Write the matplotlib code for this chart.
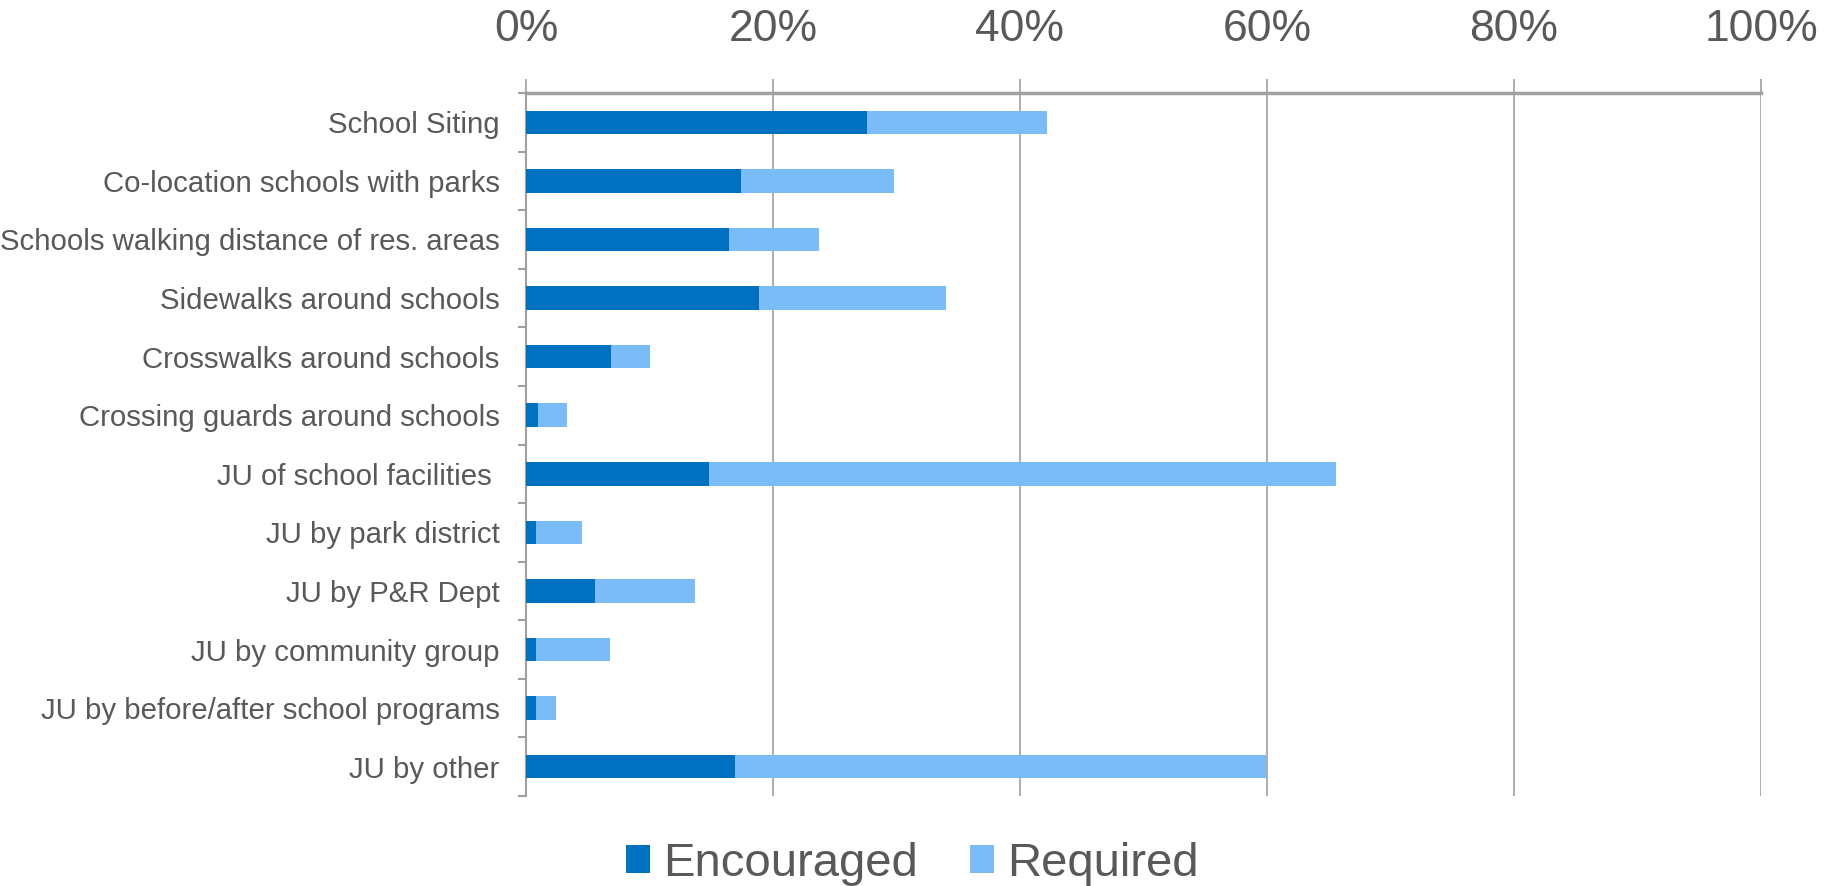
import matplotlib.pyplot as plt
from matplotlib.ticker import FixedLocator, PercentFormatter

plt.rcParams['font.family'] = ['Liberation Sans', 'DejaVu Sans']

# values in percent
categories = ['School Siting', 'Co-location schools with parks',
              'Schools walking distance of res. areas', 'Sidewalks around schools',
              'Crosswalks around schools', 'Crossing guards around schools',
              'JU of school facilities ', 'JU by park district', 'JU by P&R Dept',
              'JU by community group', 'JU by before/after school programs',
              'JU by other']
encouraged = [27.6, 17.4, 16.4, 18.9, 6.85, 0.95, 14.85, 0.8, 5.55, 0.8, 0.8, 16.95]
required = [14.6, 12.4, 7.3, 15.1, 3.15, 2.4, 50.7, 3.7, 8.1, 6.0, 1.65, 43.0]

dark = '#0070C0'
light = '#79BCF8'
txt = '#595959'
grid_c = '#a0a0a0'

fig = plt.figure(figsize=(18.25, 8.86), dpi=100)
ax = fig.add_axes([526/1825, 1-796/886, (1761-526)/1825, (796-93)/886])

y = list(range(len(categories)))
ax.barh(y, encouraged, height=0.4, color=dark, label='Encouraged', zorder=3)
ax.barh(y, required, left=encouraged, height=0.4, color=light, label='Required', zorder=3)

ax.set_xlim(0, 100)
ax.set_ylim(len(categories) - 0.5, -0.5)
ax.set_xticks([0, 20, 40, 60, 80, 100])
ax.xaxis.set_major_formatter(PercentFormatter(decimals=0))
ax.xaxis.tick_top()
ax.tick_params(axis='x', which='major', length=10, width=1.2, color=grid_c,
               labelsize=32, labelcolor=txt, pad=21)
ax.grid(axis='x', color=grid_c, linewidth=1.2, zorder=0)

ax.set_yticks(y)
ax.set_yticklabels(categories)
ax.yaxis.set_minor_locator(FixedLocator([i - 0.5 for i in range(len(categories) + 1)]))
ax.tick_params(axis='y', which='major', length=0, labelsize=21.2, labelcolor=txt, pad=19)
ax.tick_params(axis='y', which='minor', length=6, width=1.5, color=grid_c)

for s in ['right', 'bottom']:
    ax.spines[s].set_visible(False)
ax.spines['top'].set_color(grid_c)
ax.spines['top'].set_linewidth(2.5)
ax.spines['left'].set_color(grid_c)
ax.spines['left'].set_linewidth(1.5)

fig.legend(loc='center', bbox_to_anchor=(0.5, 1-864/886), ncol=2, frameon=False,
           fontsize=34, handlelength=0.51, handleheight=0.53, handletextpad=0.28,
           columnspacing=1.1, labelcolor=txt, borderaxespad=0, borderpad=0)

fig.savefig('out.png', dpi=100)
